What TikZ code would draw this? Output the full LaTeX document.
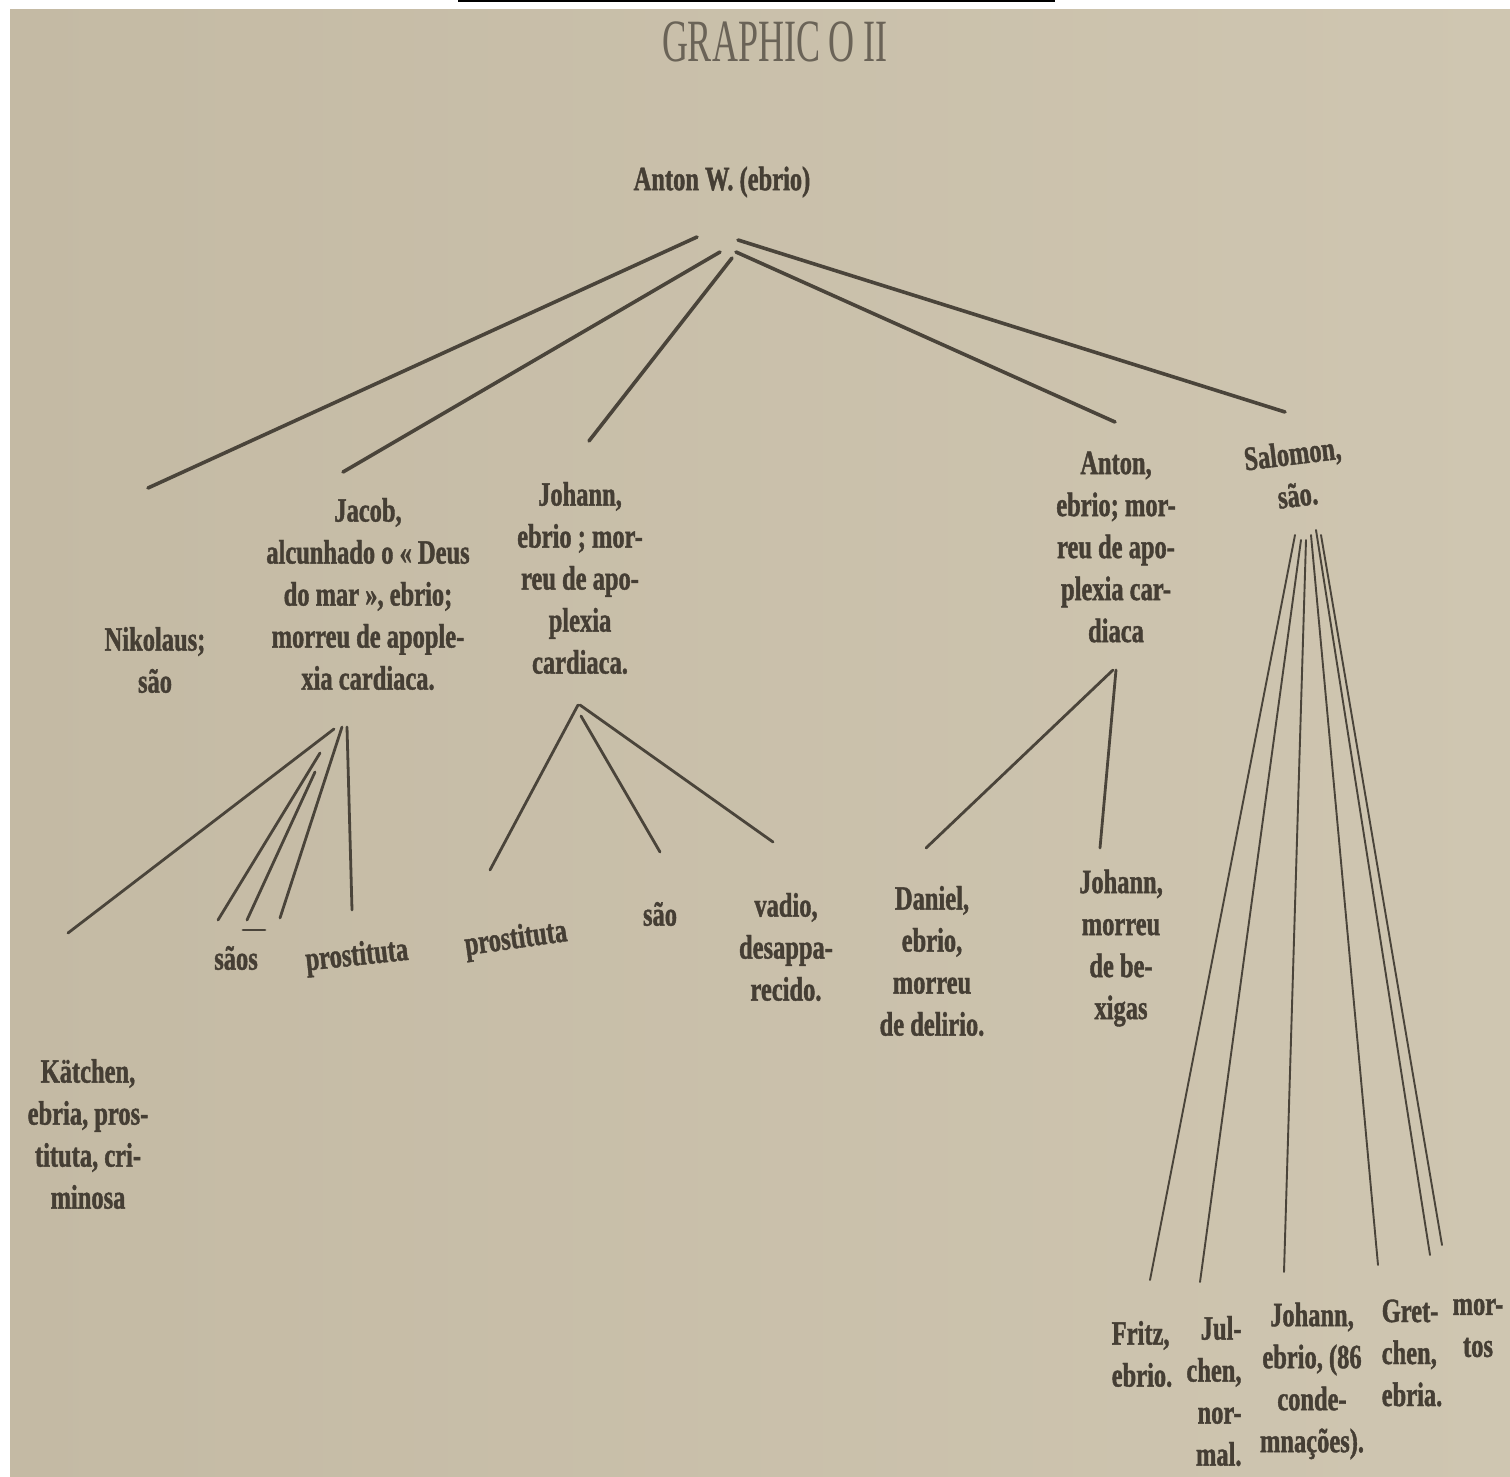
\documentclass[tikz,border=0pt]{standalone}
\usepackage{fontspec}
\newfontfamily\oldface[FakeStretch=0.72,FakeBold=1.2]{Liberation Serif}
\newfontfamily\titleface[FakeStretch=0.6]{Liberation Serif}
\definecolor{paperL}{HTML}{C4BAA4}
\definecolor{paperR}{HTML}{CFC6B1}
\definecolor{ink}{HTML}{453E34}
\definecolor{stroke}{HTML}{4A443A}
\definecolor{titleink}{HTML}{6A6357}
\tikzset{
  txt/.style={font=\oldface\bfseries\fontsize{34}{42}\selectfont, text=ink, inner sep=0pt, align=center},
  title/.style={font=\titleface\fontsize{60}{60}\selectfont, text=titleink, inner sep=0pt},
  branch/.style={draw=stroke, line width=3.6pt, line cap=round},
  twig/.style={draw=stroke, line width=2.8pt, line cap=round},
  hair/.style={draw=stroke, line width=1.9pt, line cap=round}
}
\begin{document}
\begin{tikzpicture}[x=1pt,y=-1pt]
\useasboundingbox (0,0) rectangle (1510,1477);
\fill[white] (0,0) rectangle (1510,1477);
\shade[left color=paperL, right color=paperR] (10,10) rectangle (1510,1477);
\draw[black, line width=2pt] (458,1.5) -- (1055,1.5);

% texts
\node[title] (title) at (775,42) {GRAPHIC O II};
\node[txt] (antonW) at (722,182) {Anton W. (ebrio)};
\node[txt] (nikolaus) at (155,660) {Nikolaus;\\são};
\node[txt] (jacob) at (368,594) {Jacob,\\alcunhado o « Deus\\do mar », ebrio;\\morreu de apople-\\xia cardiaca.};
\node[txt] (johann1) at (580,578) {Johann,\\ebrio ; mor-\\reu de apo-\\plexia\\cardiaca.};
\node[txt] (anton2) at (1116,547) {Anton,\\ebrio; mor-\\reu de apo-\\plexia car-\\diaca};
\node[txt, rotate=7] (salomon) at (1295,474) {Salomon,\\são.};
\node[txt, align=center] (kaetchen) at (88,1134) {Kätchen,\\ebria, pros-\\tituta, cri-\\minosa};
\node[txt] (saos) at (236,958) {sãos};
\node[txt, rotate=6] (prost1) at (357,957) {prostituta};
\node[txt, rotate=8] (prost2) at (516,940) {prostituta};
\node[txt] (sao) at (660,914) {são};
\node[txt] (vadio) at (786,947) {vadio,\\desappa-\\recido.};
\node[txt] (daniel) at (932,961) {Daniel,\\ebrio,\\morreu\\de delirio.};
\node[txt] (johann2) at (1121,948) {Johann,\\morreu\\de be-\\xigas};
\node[txt, align=left] (fritz) at (1142,1354) {Fritz,\\ebrio.};
\node[txt, align=right] (julchen) at (1214,1391) {Jul-\\chen,\\nor-\\mal.};
\node[txt] (johann3) at (1312,1381) {Johann,\\ebrio, (86\\conde-\\mnações).};
\node[txt, align=left] (gretchen) at (1412,1353) {Gret-\\chen,\\ebria.};
\node[txt] (mortos) at (1478,1328) {mor-\\tos};

% connector end points
\coordinate (aw1) at (697,237);
\coordinate (aw2) at (720,252);
\coordinate (aw3) at (732,258);
\coordinate (aw4) at (736,252);
\coordinate (aw5) at (738,240);
\coordinate (nik-t) at (148,488);
\coordinate (jac-t) at (343,472);
\coordinate (joh1-t) at (589,441);
\coordinate (ant2-t) at (1115,422);
\coordinate (sal-t) at (1285,412);

\coordinate (jac-b1) at (334,729);
\coordinate (jac-b2) at (320,753);
\coordinate (jac-b3) at (315,772);
\coordinate (jac-b4) at (342,727);
\coordinate (jac-b5) at (347,727);
\coordinate (kae-t) at (68,933);
\coordinate (saos-t1) at (218,920);
\coordinate (saos-t2) at (247,920);
\coordinate (saos-t3) at (280,918);
\coordinate (prost1-t) at (352,910);

\coordinate (joh1-b1) at (578,705);
\coordinate (joh1-b2) at (581,716);
\coordinate (joh1-b3) at (580,705);
\coordinate (prost2-t) at (490,870);
\coordinate (sao-t) at (660,852);
\coordinate (vadio-t) at (773,842);

\coordinate (ant2-b1) at (1113,670);
\coordinate (ant2-b2) at (1116,670);
\coordinate (dan-t) at (926,848);
\coordinate (joh2-t) at (1100,848);

\coordinate (sal-b1) at (1295,535);
\coordinate (sal-b2) at (1301,540);
\coordinate (sal-b3) at (1306,540);
\coordinate (sal-b4) at (1311,535);
\coordinate (sal-b5) at (1316,530);
\coordinate (sal-b6) at (1321,535);
\coordinate (fritz-t) at (1150,1280);
\coordinate (jul-t) at (1200,1282);
\coordinate (joh3-t) at (1284,1272);
\coordinate (gret-t) at (1378,1265);
\coordinate (mort-t1) at (1430,1255);
\coordinate (mort-t2) at (1442,1245);

% connectors
\draw[branch] (aw1) -- (nik-t);
\draw[branch] (aw2) -- (jac-t);
\draw[branch] (aw3) -- (joh1-t);
\draw[branch] (aw4) -- (ant2-t);
\draw[branch] (aw5) -- (sal-t);

\draw[twig] (jac-b1) -- (kae-t);
\draw[twig] (jac-b2) -- (saos-t1);
\draw[twig] (jac-b3) -- (saos-t2);
\draw[twig] (jac-b4) -- (saos-t3);
\draw[twig] (jac-b5) -- (prost1-t);
\draw[twig] (243,930) -- (265,930);

\draw[twig] (joh1-b1) -- (prost2-t);
\draw[twig] (joh1-b2) -- (sao-t);
\draw[twig] (joh1-b3) -- (vadio-t);

\draw[twig] (ant2-b1) -- (dan-t);
\draw[twig] (ant2-b2) -- (joh2-t);

\draw[hair] (sal-b1) -- (fritz-t);
\draw[hair] (sal-b2) -- (jul-t);
\draw[hair] (sal-b3) -- (joh3-t);
\draw[hair] (sal-b4) -- (gret-t);
\draw[hair] (sal-b5) -- (mort-t1);
\draw[hair] (sal-b6) -- (mort-t2);
\end{tikzpicture}
\end{document}
